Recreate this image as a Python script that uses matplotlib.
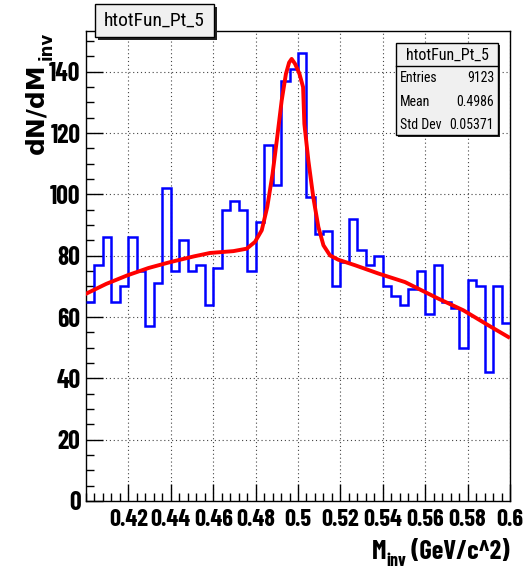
import numpy as np
import matplotlib.pyplot as plt
from matplotlib.patches import Rectangle
from matplotlib.ticker import MultipleLocator, FixedLocator, FuncFormatter

# histogram: 50 bins from 0.4 to 0.6
x_lo, x_hi, nbins = 0.4, 0.6, 50
counts = [65, 77, 86, 65, 70, 86, 75, 57, 71, 102,
          75, 85, 75, 77, 64, 76, 95, 98, 95, 75,
          91, 116, 103, 137, 141, 146, 99, 87, 88, 70,
          78, 92, 82, 77, 80, 70, 67, 64, 69, 75,
          61, 77, 65, 63, 50, 72, 70, 42, 70, 58]

# fitted curve, points
fit_x = [0.400, 0.4095, 0.4195, 0.4295, 0.4396, 0.451, 0.4585, 0.4695, 0.4758,
         0.4797, 0.4829, 0.4855, 0.488, 0.4902, 0.4923, 0.4943, 0.4958, 0.4970,
         0.4986, 0.5006, 0.5024, 0.5030, 0.5049, 0.5072, 0.5096, 0.5120, 0.5151,
         0.519, 0.5269, 0.5379, 0.5505, 0.5662, 0.578, 0.5898, 0.5992]
fit_y = [67.6, 70.8, 73.6, 76.0, 77.9, 79.8, 80.9, 81.5, 82.3,
         84.5, 88.3, 95.9, 106.7, 118.7, 130.6, 139.3, 143.0, 144.2,
         142.6, 139.5, 135.0, 123.0, 111.0, 99.1, 89.4, 83.4, 80.1,
         78.7, 76.9, 74.2, 71.4, 66.0, 62.2, 57.3, 53.5]

hist_name = "htotFun_Pt_5"
stats = [("Entries", "9123"), ("Mean", "0.4986"), ("Std Dev", "0.05371")]

W, H = 527, 570
cond = ['Barlow Condensed', 'Roboto Condensed', 'DejaVu Sans']
cond_txt = ['Roboto Condensed', 'Archivo Narrow', 'DejaVu Sans']
wide = ['DejaVu Sans']

fig = plt.figure(figsize=(W / 100, H / 100), dpi=100)
fig.patch.set_facecolor('white')

def fx(px):
    return px / W

def fy(py):
    return 1 - py / H

# axes frame in pixel positions
L, R, T, B = 86, 510, 31, 501
ax = fig.add_axes([fx(L), fy(B), fx(R) - fx(L), fy(T) - fy(B)])

edges = np.linspace(x_lo, x_hi, nbins + 1)
ax.stairs(counts, edges, baseline=None, color='#0000ff', linewidth=1.8, zorder=3)
ax.plot(fit_x, fit_y, color='#ff0000', linewidth=2.8, zorder=4)

ax.set_xlim(x_lo, x_hi)
ax.set_ylim(0, 153.3)

ax.xaxis.set_major_locator(FixedLocator(np.round(np.arange(0.42, 0.601, 0.02), 2)))
ax.xaxis.set_minor_locator(MultipleLocator(0.004))
ax.yaxis.set_major_locator(MultipleLocator(20))
ax.yaxis.set_minor_locator(MultipleLocator(5))
ax.xaxis.set_major_formatter(FuncFormatter(lambda v, p: f"{v:g}"))
ax.yaxis.set_major_formatter(FuncFormatter(lambda v, p: f"{v:g}"))

ax.tick_params(which='both', direction='in', top=False, right=False, width=1, color='black')
ax.tick_params(which='major', length=12)
ax.tick_params(which='minor', length=6)
ax.tick_params(axis='y', pad=4)
ax.tick_params(axis='x', pad=6)
for lab in ax.get_xticklabels():
    lab.set_family(cond)
    lab.set_fontweight('bold')
    lab.set_fontsize(17.5)
for lab in ax.get_yticklabels():
    lab.set_family(cond)
    lab.set_fontweight('bold')
    lab.set_fontsize(18.5)

ax.grid(True, which='major', color='#444444', linestyle=(0, (1, 2.5)), linewidth=0.8)
ax.set_axisbelow(True)
for s in ax.spines.values():
    s.set_linewidth(1.0)

# y axis title, right aligned at the top of the frame
fig.text(fx(36), fy(63), "dN/dM", rotation=90, ha='center', va='top',
         fontsize=18, fontweight='bold', family=wide)
fig.text(fx(47), fy(32), "inv", rotation=90, ha='center', va='top',
         fontsize=12, fontweight='bold', family=wide)

# x axis title, right aligned at the end of the frame
t_unit = fig.text(fx(510), fy(552), " (GeV/c^2)", ha='right', va='center',
                  fontsize=19, fontweight='bold', family=cond)
fig.canvas.draw()
bb = t_unit.get_window_extent()
t_sub = fig.text(bb.x0 / W, fy(562), "inv", ha='right', va='center',
                 fontsize=13, fontweight='bold', family=cond)
bb2 = t_sub.get_window_extent()
fig.text(bb2.x0 / W, fy(552), "M", ha='right', va='center',
         fontsize=19, fontweight='bold', family=cond)

# boxes with ROOT-like shadow
def box(x0, y0, x1, y1, sh=3):
    fig.patches.append(Rectangle((fx(x0 + sh), fy(y1 + sh)), fx(x1 - x0), fy(y0) - fy(y1),
                                 transform=fig.transFigure, facecolor='#222222',
                                 edgecolor='none', zorder=5))
    fig.patches.append(Rectangle((fx(x0), fy(y1)), fx(x1 - x0), fy(y0) - fy(y1),
                                 transform=fig.transFigure, facecolor='#f0f0f0',
                                 edgecolor='black', linewidth=1.0, zorder=6))

box(95, 4, 214, 37)
fig.text(fx(154), fy(21), hist_name, ha='center', va='center', fontsize=14,
         family=cond_txt, zorder=7)

# stats box
box(396, 43, 498, 135, sh=2)
fig.add_artist(plt.Line2D([fx(396), fx(498)], [fy(66), fy(66)], transform=fig.transFigure,
                          color='black', linewidth=1.0, zorder=7))
fig.text(fx(447), fy(55), hist_name, ha='center', va='center', fontsize=11.5,
         family=cond_txt, zorder=7)
for i, (k, v) in enumerate(stats):
    yy = 78 + i * 23.5
    fig.text(fx(400), fy(yy), k, ha='left', va='center', fontsize=10, family=cond_txt, zorder=7)
    fig.text(fx(494), fy(yy), v, ha='right', va='center', fontsize=10, family=cond_txt, zorder=7)

fig.savefig('out.png', dpi=100)
